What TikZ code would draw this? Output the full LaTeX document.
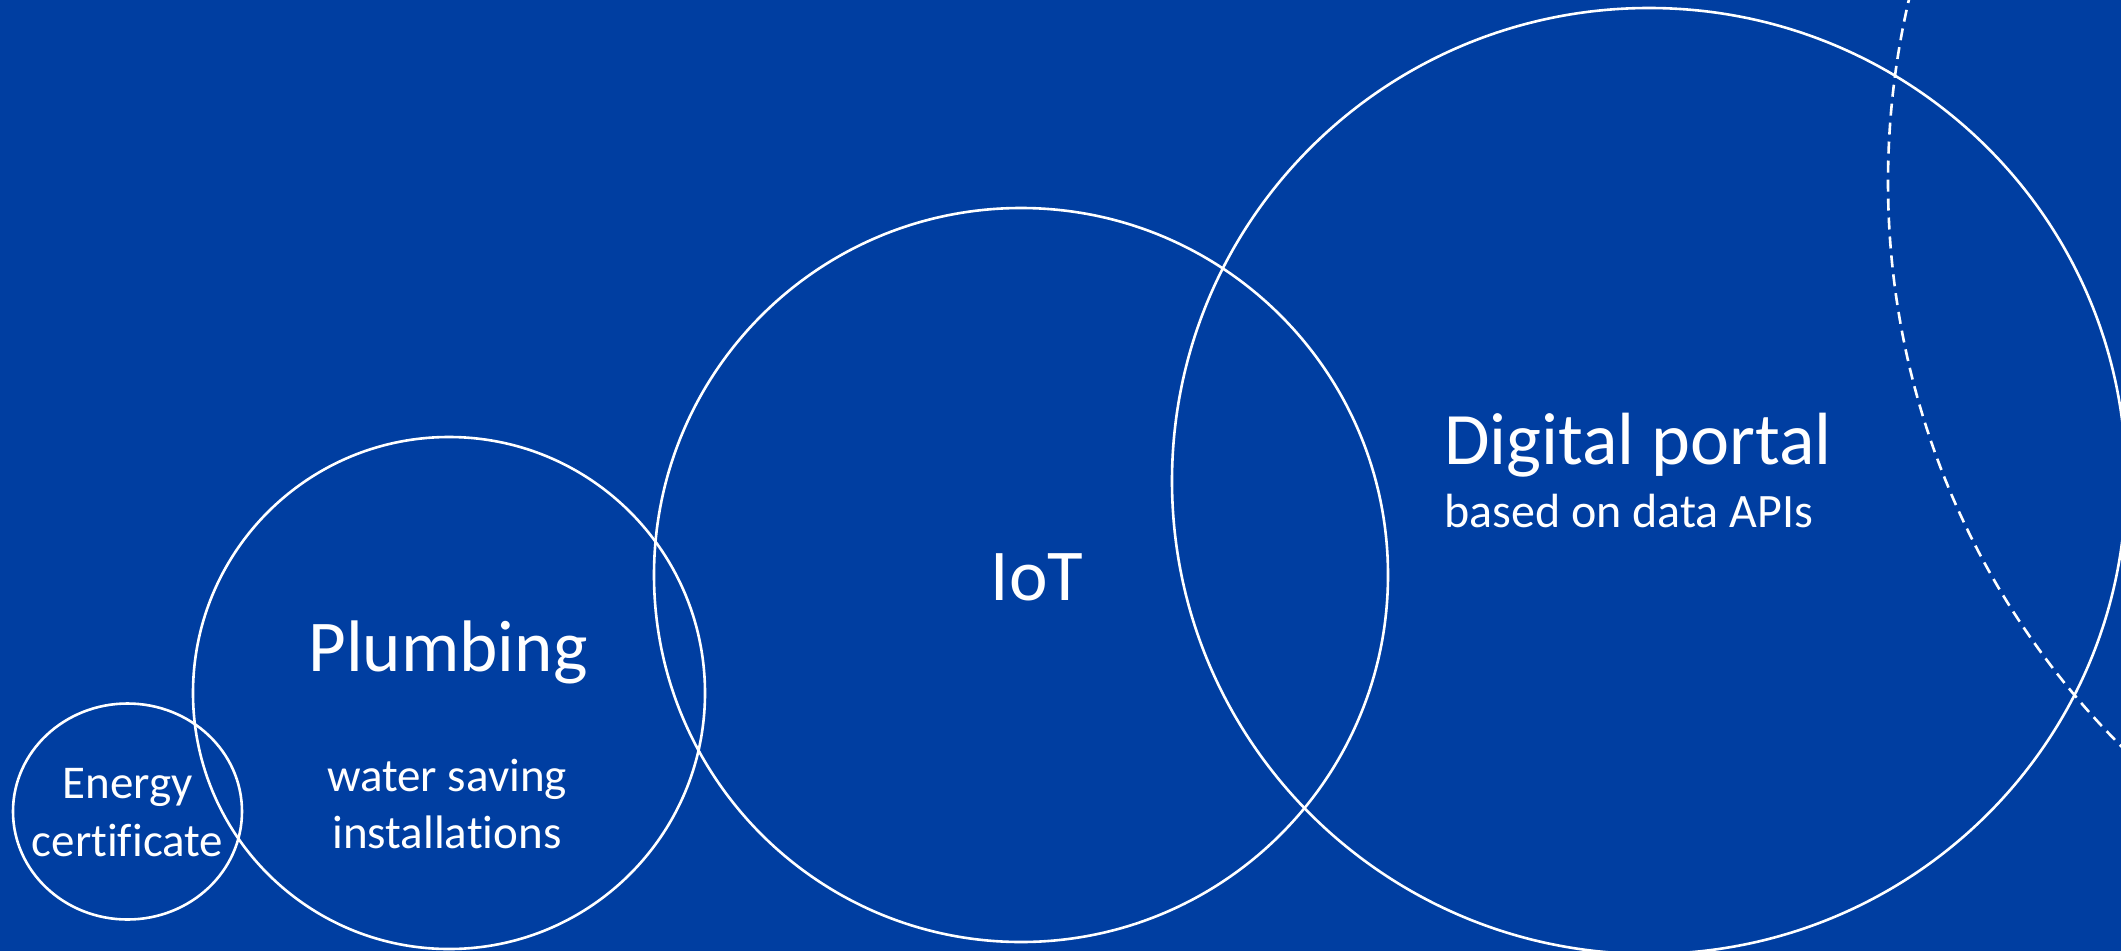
\documentclass[tikz,border=0pt]{standalone}
\usepackage{fontspec}
\setmainfont{Carlito}[Ligatures=CommonOff]
\definecolor{bg}{RGB}{0,62,161}
\begin{document}
\begin{tikzpicture}[x=1pt,y=-1pt,
 ring/.style={draw=white,line width=2.6pt},
 dashring/.style={draw=white,line width=2.6pt,dash pattern=on 12pt off 7pt},
 big/.style={text=white,font=\fontsize{73}{88}\selectfont,inner sep=0pt},
 small/.style={text=white,font=\fontsize{47}{57}\selectfont,inner sep=0pt}]
\fill[bg] (0,0) rectangle (2121,951);
\useasboundingbox (0,0) rectangle (2121,951);
\clip (0,0) rectangle (2121,951);
\draw[ring] (127.5,811.5) ellipse [x radius=114.5pt, y radius=108pt];
\draw[ring] (449,693) circle [radius=256pt];
\draw[ring] (1021,575) circle [radius=367pt];
\draw[ring] (1649,481) ellipse [x radius=477pt, y radius=473pt];
\draw[dashring] (2687,182) circle [radius=799pt];
\node[small,anchor=base] (en) at (127.5,798) {Energy};
\node[small,anchor=base] (ce) at (127.5,856) {certificate};
\node[big,anchor=base] (pl) at (448,671) {Plumbing};
\node[small,anchor=base] (ws) at (447,791) {water saving};
\node[small,anchor=base] (in) at (447,848) {installations};
\node[big,anchor=base] (iot) at (1037,600) {IoT};
\node[big,anchor=base west,font=\fontsize{74}{88}\selectfont] (dp) at (1444,464) {Digital portal};
\node[small,anchor=base west,font=\fontsize{48}{57}\selectfont] (api) at (1444,527) {based on data APIs};
\end{tikzpicture}
\end{document}
